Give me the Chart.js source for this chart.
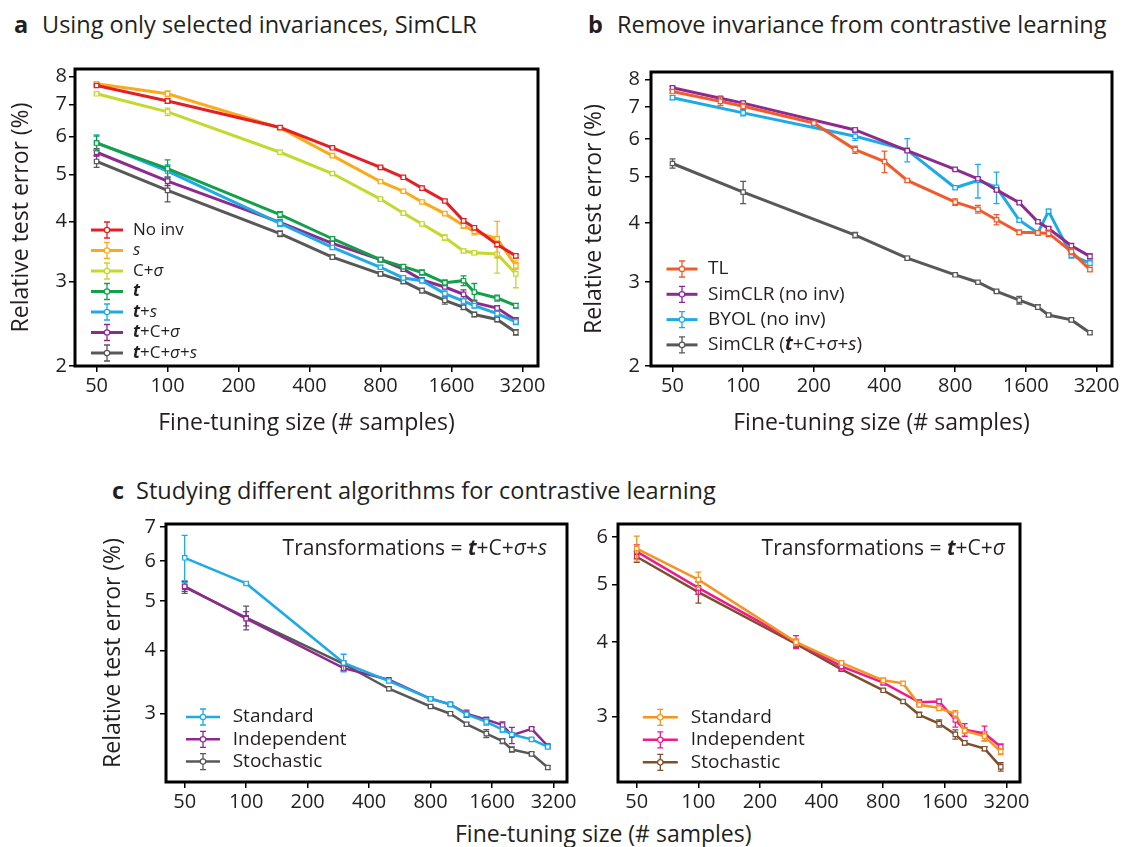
<!DOCTYPE html>
<html>
<head>
<meta charset="utf-8">
<script src="https://cdn.jsdelivr.net/npm/chart.js@4.4.1/dist/chart.umd.min.js"></script>
<style>
  body { margin: 0; background: #fff; width: 1137px; height: 847px; position: relative; overflow: hidden; font-family: 'Open Sans', sans-serif; color: #231f20; }
  canvas { position: absolute; }
  .ttl { position: absolute; font-size: 23.5px; line-height: 24px; white-space: nowrap; }
  .ttl b { position: absolute; top: 0; }
  .xt { position: absolute; font-size: 23px; line-height: 24px; white-space: nowrap; }
</style>
</head>
<body>
<div class="ttl" style="left:14px;top:12px"><b>a</b><span style="margin-left:28px">Using only selected invariances, SimCLR</span></div>
<div class="ttl" style="left:588px;top:12px"><b>b</b><span style="margin-left:29px">Remove invariance from contrastive learning</span></div>
<div class="ttl" style="left:112px;top:478px"><b>c</b><span style="margin-left:24px">Studying different algorithms for contrastive learning</span></div>
<div class="xt" style="left:455px;top:821px">Fine-tuning size (# samples)</div>

<canvas id="chartA" width="560" height="400" style="left:0;top:55px"></canvas>
<canvas id="chartB" width="561" height="400" style="left:571px;top:55px"></canvas>
<canvas id="chartC1" width="493" height="314" style="left:86px;top:508px"></canvas>
<canvas id="chartC2" width="454" height="314" style="left:578px;top:508px"></canvas>

<script>
const FONT = "'Open Sans', sans-serif";
const INK = '#231f20';
Chart.defaults.font.family = FONT;
Chart.defaults.color = INK;

// fine-tuning sizes and ticks
const xTicks = [50, 100, 200, 400, 800, 1600, 3200];
const sizes = [50, 100, 300, 500, 800, 1000, 1200, 1500, 1800, 2000, 2500, 3000];
const sizesB = [50, 80, 100, 200, 300, 400, 500, 800, 1000, 1200, 1500, 1800, 2000, 2500, 3000];
const yTicksAB = [2, 3, 4, 5, 6, 7, 8];
const yTicksC1 = [3, 4, 5, 6, 7];
const yTicksC2 = [3, 4, 5, 6];

// panel a - selected invariances
const aNoInv = [7.67, 7.12, 6.27, 5.69, 5.18, 4.94, 4.69, 4.41, 4.01, 3.88, 3.58, 3.39];
const aNoInvErr = [0.05, 0.08, 0.05, 0.03, 0.03, 0.03, 0.04, 0.03, 0.04, 0.04, 0.04, 0.03];
const aS = [7.73, 7.37, 6.26, 5.48, 4.84, 4.62, 4.39, 4.15, 3.92, 3.81, 3.68, 3.23];
const aSErr = [0.05, 0.1, 0.06, 0.03, 0.03, 0.03, 0.03, 0.03, 0.05, 0.06, 0.32, 0.05];
const aCs = [7.37, 6.76, 5.57, 5.03, 4.45, 4.16, 3.95, 3.70, 3.47, 3.44, 3.42, 3.11];
const aCsErr = [0.05, 0.12, 0.05, 0.03, 0.03, 0.03, 0.03, 0.05, 0.03, 0.03, 0.3, 0.2];
const aT = [5.82, 5.15, 4.13, 3.68, 3.33, 3.22, 3.13, 2.98, 3.01, 2.85, 2.77, 2.67];
const aTErr = [0.2, 0.22, 0.06, 0.03, 0.03, 0.03, 0.04, 0.04, 0.07, 0.12, 0.04, 0.03];
const aTS = [5.83, 5.09, 3.96, 3.53, 3.21, 3.05, 3.01, 2.83, 2.73, 2.67, 2.57, 2.47];
const aTSErr = [0.22, 0.15, 0.06, 0.03, 0.03, 0.03, 0.03, 0.05, 0.04, 0.03, 0.03, 0.03];
const aTCs = [5.57, 4.85, 3.98, 3.60, 3.33, 3.18, 3.02, 2.92, 2.82, 2.71, 2.64, 2.49];
const aTCsErr = [0.1, 0.1, 0.05, 0.03, 0.03, 0.03, 0.03, 0.03, 0.06, 0.03, 0.03, 0.03];
const aAll = [5.33, 4.64, 3.77, 3.37, 3.11, 3.00, 2.87, 2.74, 2.65, 2.56, 2.50, 2.35];
const aAllErr = [0.15, 0.25, 0.05, 0.03, 0.03, 0.03, 0.03, 0.05, 0.03, 0.03, 0.03, 0.03];

// panel b - invariance removed
const bTL = [7.55, 7.2, 7.03, 6.48, 5.70, 5.38, 4.91, 4.42, 4.27, 4.06, 3.82, 3.81, 3.80, 3.48, 3.19];
const bTLErr = [0.05, 0.15, 0.1, 0.04, 0.1, 0.28, 0.04, 0.07, 0.08, 0.1, 0.04, 0.04, 0.06, 0.05, 0.03];
const bSim = [7.69, 7.31, 7.14, null, 6.27, null, 5.67, 5.18, 4.95, 4.69, 4.41, 4.02, 3.89, 3.58, 3.40];
const bSimErr = [0.06, 0.06, 0.06, null, 0.06, null, 0.03, 0.03, 0.03, 0.04, 0.03, 0.03, 0.03, 0.04, 0.04];
const bByol = [7.33, null, 6.81, null, 6.08, null, 5.69, 4.74, 4.91, 4.75, 4.05, 3.81, 4.23, 3.42, 3.29];
const bByolErr = [0.07, null, 0.1, null, 0.12, null, 0.32, 0.03, 0.4, 0.36, 0.03, 0.03, 0.04, 0.05, 0.04];
const bAll = [5.33, null, 4.64, null, 3.77, null, 3.37, 3.11, 3.00, 2.87, 2.75, 2.66, 2.56, 2.50, 2.35];
const bAllErr = [0.12, null, 0.25, null, 0.05, null, 0.03, 0.02, 0.02, 0.02, 0.05, 0.03, 0.02, 0.02, 0.02];

// panel c - algorithms, t+C+sigma+s
const c1Std = [6.09, 5.42, 3.78, 3.48, 3.21, 3.13, 2.99, 2.89, 2.79, 2.73, 2.67, 2.58];
const c1StdErr = [0.65, 0.03, 0.15, 0.02, 0.02, 0.02, 0.03, 0.04, 0.03, 0.02, 0.02, 0.02];
const c1Ind = [5.35, 4.62, 3.69, 3.50, 3.21, 3.13, 3.00, 2.92, 2.85, 2.72, 2.80, 2.59];
const c1IndErr = [0.12, 0.15, 0.04, 0.02, 0.02, 0.02, 0.05, 0.03, 0.04, 0.1, 0.02, 0.02];
const c1Sto = [5.33, 4.64, 3.76, 3.36, 3.10, 3.00, 2.86, 2.74, 2.65, 2.55, 2.50, 2.35];
const c1StoErr = [0.15, 0.25, 0.05, 0.03, 0.02, 0.02, 0.02, 0.05, 0.03, 0.03, 0.02, 0.02];

// panel c - algorithms, t+C+sigma
const c2Std = [5.74, 5.09, 4.00, 3.69, 3.45, 3.41, 3.14, 3.10, 3.03, 2.84, 2.78, 2.62];
const c2StdErr = [0.28, 0.15, 0.05, 0.03, 0.03, 0.02, 0.03, 0.03, 0.04, 0.03, 0.05, 0.03];
const c2Ind = [5.67, 4.93, 4.00, 3.64, 3.42, null, 3.17, 3.18, 2.96, 2.85, 2.81, 2.67];
const c2IndErr = [0.15, 0.12, 0.1, 0.05, 0.03, null, 0.03, 0.03, 0.08, 0.07, 0.08, 0.03];
const c2Sto = [5.56, 4.85, 3.97, 3.60, 3.32, 3.18, 3.02, 2.92, 2.80, 2.71, 2.65, 2.47];
const c2StoErr = [0.12, 0.2, 0.05, 0.02, 0.02, 0.02, 0.03, 0.04, 0.05, 0.02, 0.02, 0.04];

// {x} = bold italic, [x] = italic
function richParts(str) {
  const parts = [];
  const re = /\{([^}]*)\}|\[([^\]]*)\]|([^{\[]+)/g;
  let m;
  while ((m = re.exec(str))) {
    if (m[1] !== undefined) parts.push([m[1], 'italic bold ']);
    else if (m[2] !== undefined) parts.push([m[2], 'italic ']);
    else parts.push([m[3], '']);
  }
  return parts;
}

function drawRich(ctx, str, x, y, size, align) {
  const parts = richParts(str);
  ctx.save();
  ctx.textBaseline = 'middle';
  ctx.textAlign = 'left';
  ctx.fillStyle = INK;
  let w = 0;
  parts.forEach(p => { ctx.font = p[1] + size + 'px ' + FONT; w += ctx.measureText(p[0]).width; });
  let cx = align === 'right' ? x - w : x;
  parts.forEach(p => {
    ctx.font = p[1] + size + 'px ' + FONT;
    ctx.fillText(p[0], cx, y);
    cx += ctx.measureText(p[0]).width;
  });
  ctx.restore();
}

function errBar(ctx, x, top, bot, cap) {
  ctx.moveTo(x, top); ctx.lineTo(x, bot);
  ctx.moveTo(x - cap, top); ctx.lineTo(x + cap, top);
  ctx.moveTo(x - cap, bot); ctx.lineTo(x + cap, bot);
}

// frame around the plot area
const boxPlugin = {
  id: 'box',
  afterDraw(chart) {
    const { ctx, chartArea: a } = chart;
    ctx.save();
    ctx.lineWidth = 3;
    ctx.strokeStyle = '#000';
    ctx.strokeRect(a.left, a.top, a.right - a.left, a.bottom - a.top);
    ctx.restore();
  }
};

// vertical error bars, drawn just under each dataset
const errPlugin = {
  id: 'errbars',
  beforeDatasetDraw(chart, args) {
    const ds = chart.data.datasets[args.index];
    if (!ds.err) return;
    const ys = chart.scales.y;
    const ctx = chart.ctx;
    ctx.save();
    ctx.strokeStyle = ds.borderColor;
    ctx.lineWidth = 1.3;
    ctx.beginPath();
    args.meta.data.forEach((pt, i) => {
      const e = ds.err[i];
      const v = ds.data[i].y;
      if (e == null || v == null) return;
      errBar(ctx, pt.x, ys.getPixelForValue(v + e), ys.getPixelForValue(v - e), 3);
    });
    ctx.stroke();
    ctx.restore();
  }
};

// legend with error bar icons and italic labels
const legendPlugin = {
  id: 'richLegend',
  afterDraw(chart, args, o) {
    if (o.x === undefined) return;
    const { ctx, chartArea: a } = chart;
    chart.data.datasets.forEach((ds, i) => {
      const y = a.top + o.y + i * o.dy;
      const x0 = a.left + o.x;
      const xm = x0 + o.len / 2;
      ctx.save();
      ctx.strokeStyle = ds.borderColor;
      ctx.lineWidth = ds.borderWidth;
      ctx.beginPath();
      ctx.moveTo(x0, y); ctx.lineTo(x0 + o.len, y);
      ctx.stroke();
      ctx.lineWidth = 1.3;
      ctx.beginPath();
      errBar(ctx, xm, y - 8, y + 8, 3);
      ctx.stroke();
      ctx.fillStyle = '#fff';
      ctx.lineWidth = 1.2;
      ctx.beginPath();
      ctx.arc(xm, y, 2.7, 0, Math.PI * 2);
      ctx.fill();
      ctx.stroke();
      ctx.restore();
      drawRich(ctx, ds.label, a.left + o.textX, y, o.size, 'left');
    });
  }
};

const notePlugin = {
  id: 'note',
  afterDraw(chart, args, o) {
    if (!o.text) return;
    const a = chart.chartArea;
    drawRich(chart.ctx, o.text, a.right - o.right, a.top + o.y, o.size, 'right');
  }
};

Chart.register(boxPlugin, errPlugin, legendPlugin, notePlugin);

function buildChart(id, opt) {
  const datasets = opt.series.map(s => ({
    label: s.label,
    data: opt.xs.map((x, i) => ({ x, y: s.ys[i] })),
    err: s.err,
    borderColor: s.color,
    backgroundColor: s.color,
    borderWidth: opt.lineWidth,
    pointStyle: 'rect',
    pointRadius: 3.1,
    pointBorderWidth: 1.2,
    pointBackgroundColor: '#fff',
    pointBorderColor: s.color,
    tension: 0,
    spanGaps: true,
  }));

  return new Chart(document.getElementById(id), {
    type: 'line',
    data: { datasets },
    options: {
      responsive: false,
      animation: false,
      devicePixelRatio: 1,
      layout: { padding: opt.padding },
      plugins: {
        legend: { display: false },
        tooltip: { enabled: false },
        richLegend: opt.legend,
        note: opt.note || {},
      },
      scales: {
        x: {
          type: 'logarithmic',
          min: 40.5,
          max: 3725,
          afterBuildTicks: ax => { ax.ticks = xTicks.map(v => ({ value: v })); },
          afterFit: s => { s.height = opt.xHeight; },
          ticks: { callback: v => String(v), font: { size: 20 }, color: INK, padding: 2, maxRotation: 0, autoSkip: false },
          grid: { display: true, drawOnChartArea: false, drawTicks: true, tickLength: 6, color: '#000', lineWidth: 1.5 },
          border: { display: false },
          title: { display: !!opt.xTitle, text: opt.xTitle, font: { size: 23 }, color: INK, padding: { top: 4, bottom: 18 } },
        },
        y: {
          type: 'logarithmic',
          min: opt.yMin,
          max: opt.yMax,
          afterBuildTicks: ax => { ax.ticks = opt.yTicks.map(v => ({ value: v })); },
          afterFit: s => { s.width = opt.yWidth; },
          ticks: { callback: v => String(v), font: { size: 20 }, color: INK, padding: opt.yPad, autoSkip: false },
          grid: { display: true, drawOnChartArea: false, drawTicks: true, tickLength: 6, color: '#000', lineWidth: 1.5 },
          border: { display: false },
          title: { display: !!opt.yTitle, text: opt.yTitle, font: { size: 23 }, color: INK, padding: { top: opt.yTitlePad, bottom: 0 } },
        },
      },
    },
  });
}

const X_TITLE = 'Fine-tuning size (# samples)';
const Y_TITLE = 'Relative test error (%)';

buildChart('chartA', {
  xs: sizes, yTicks: yTicksAB, yMin: 2, yMax: 8.3,
  padding: { top: 10, right: 22, left: 0, bottom: 0 },
  xHeight: 89, yWidth: 75, yPad: 2, yTitlePad: 8, lineWidth: 3,
  xTitle: X_TITLE, yTitle: Y_TITLE,
  legend: { x: 16, y: 161, dy: 20.5, len: 32, textX: 58, size: 17 },
  series: [
    { label: 'No inv', ys: aNoInv, err: aNoInvErr, color: '#e41f26' },
    { label: '[s]', ys: aS, err: aSErr, color: '#fbab19' },
    { label: 'C+[σ]', ys: aCs, err: aCsErr, color: '#c4d82e' },
    { label: '{t}', ys: aT, err: aTErr, color: '#12a04a' },
    { label: '{t}+[s]', ys: aTS, err: aTSErr, color: '#1eaae7' },
    { label: '{t}+C+[σ]', ys: aTCs, err: aTCsErr, color: '#8e2a8f' },
    { label: '{t}+C+[σ]+[s]', ys: aAll, err: aAllErr, color: '#58585a' },
  ],
});

buildChart('chartB', {
  xs: sizesB, yTicks: yTicksAB, yMin: 2, yMax: 8.3,
  padding: { top: 10, right: 20, left: 0, bottom: 0 },
  xHeight: 89, yWidth: 80, yPad: 5, yTitlePad: 10, lineWidth: 3,
  xTitle: X_TITLE, yTitle: Y_TITLE,
  legend: { x: 15.5, y: 197, dy: 25.3, len: 31, textX: 57, size: 19 },
  series: [
    { label: 'TL', ys: bTL, err: bTLErr, color: '#f15a2b' },
    { label: 'SimCLR (no inv)', ys: bSim, err: bSimErr, color: '#8e2a8f' },
    { label: 'BYOL (no inv)', ys: bByol, err: bByolErr, color: '#1eaae7' },
    { label: 'SimCLR ({t}+C+[σ]+[s])', ys: bAll, err: bAllErr, color: '#58585a' },
  ],
});

buildChart('chartC1', {
  xs: sizes, yTicks: yTicksC1, yMin: 2.21, yMax: 7.1,
  padding: { top: 13, right: 12, left: 0, bottom: 0 },
  xHeight: 40, yWidth: 80, yPad: 4, yTitlePad: 14, lineWidth: 2.5,
  yTitle: Y_TITLE,
  legend: { x: 20, y: 193, dy: 22.3, len: 34, textX: 66.7, size: 19 },
  note: { text: 'Transformations = {t}+C+[σ]+[s]', size: 21, right: 20, y: 25 },
  series: [
    { label: 'Standard', ys: c1Std, err: c1StdErr, color: '#1eaae7' },
    { label: 'Independent', ys: c1Ind, err: c1IndErr, color: '#8e2a8f' },
    { label: 'Stochastic', ys: c1Sto, err: c1StoErr, color: '#58585a' },
  ],
});

buildChart('chartC2', {
  xs: sizes, yTicks: yTicksC2, yMin: 2.33, yMax: 6.31,
  padding: { top: 12, right: 12, left: 0, bottom: 0 },
  xHeight: 40, yWidth: 40, yPad: 4, yTitlePad: 0, lineWidth: 2.5,
  legend: { x: 24.8, y: 193.3, dy: 22.5, len: 35, textX: 72.8, size: 19 },
  note: { text: 'Transformations = {t}+C+[σ]', size: 21, right: 15, y: 25 },
  series: [
    { label: 'Standard', ys: c2Std, err: c2StdErr, color: '#f7941e' },
    { label: 'Independent', ys: c2Ind, err: c2IndErr, color: '#ec1c8c' },
    { label: 'Stochastic', ys: c2Sto, err: c2StoErr, color: '#7d4f2c' },
  ],
});
</script>
</body>
</html>
